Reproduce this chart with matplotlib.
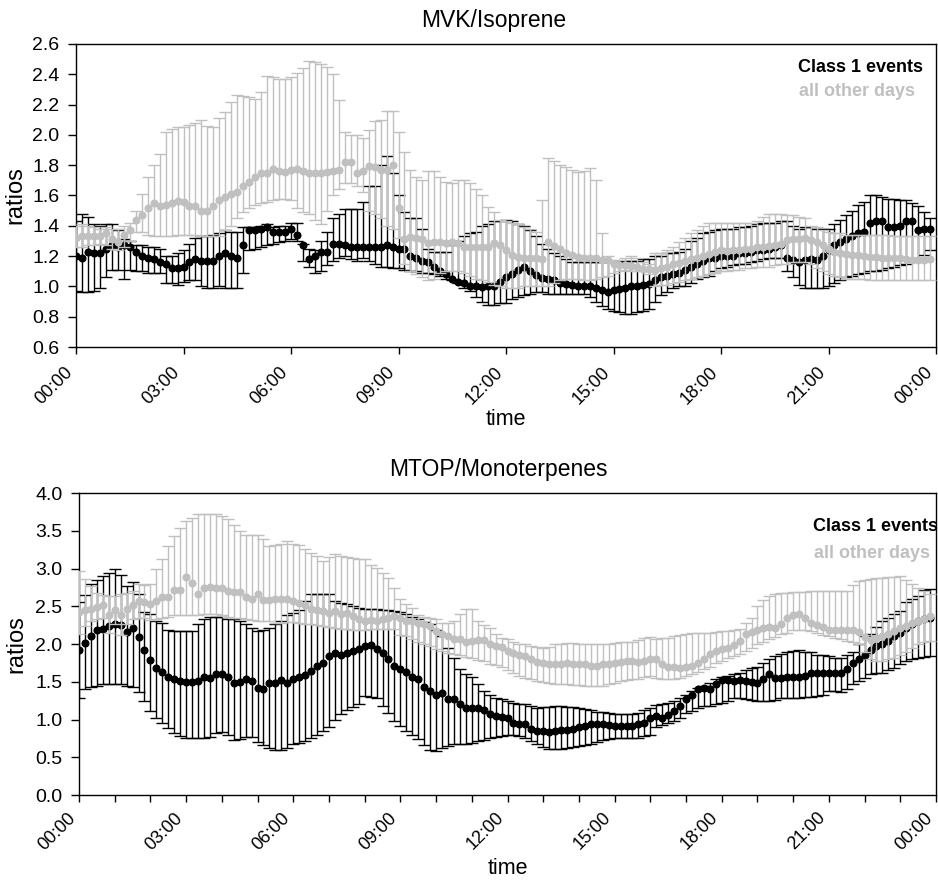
import numpy as np
import matplotlib
matplotlib.use("Agg")
import matplotlib.pyplot as plt

plt.rcParams["font.family"] = ["Liberation Sans", "DejaVu Sans"]

# time of day in 10 minute steps (144 values per day)
n_pts = 144
hours = np.arange(n_pts) / 6.0

tick_hours = [0, 3, 6, 9, 12, 15, 18, 21, 24]
tick_labels = ["00:00", "03:00", "06:00", "09:00", "12:00", "15:00", "18:00", "21:00", "00:00"]

# ---------------- MVK/Isoprene ----------------
mvk_c1_mean = [
    1.20, 1.19, 1.23, 1.22, 1.22, 1.25, 1.27, 1.26, 1.27, 1.26,
    1.23, 1.20, 1.19, 1.18, 1.16, 1.15, 1.12, 1.12, 1.13, 1.16,
    1.18, 1.17, 1.17, 1.17, 1.20, 1.22, 1.20, 1.19, 1.27, 1.37,
    1.37, 1.38, 1.39, 1.36, 1.36, 1.36, 1.38, 1.34, 1.27, 1.18,
    1.20, 1.23, 1.23, 1.28, 1.28, 1.27, 1.26, 1.26,
    1.26, 1.26, 1.26, 1.26, 1.27, 1.26, 1.25, 1.245,
    1.20, 1.185, 1.17, 1.16, 1.13, 1.10, 1.085, 1.05, 1.03, 1.02,
    1.005, 1.0, 0.995, 1.0, 1.0, 1.03, 1.06, 1.085, 1.11, 1.125,
    1.10, 1.075, 1.055, 1.05, 1.04, 1.02, 1.015, 1.01, 1.005, 1.0,
    1.0, 0.99, 0.975, 0.965, 0.975, 0.98, 0.99, 1.0, 1.005, 1.01, 1.015,
    1.04, 1.06, 1.07, 1.08, 1.09, 1.11, 1.13, 1.15, 1.17, 1.19,
    1.19, 1.20, 1.20, 1.20, 1.22, 1.22, 1.23, 1.24, 1.24, 1.25,
    1.26, 1.27, 1.19, 1.175, 1.16, 1.175, 1.18, 1.175, 1.20, 1.24,
    1.27, 1.29, 1.31, 1.33, 1.35, 1.36, 1.42, 1.43, 1.43, 1.39,
    1.39, 1.40, 1.43, 1.43, 1.37, 1.38, 1.38,
]
mvk_c1_hi = [
    1.43, 1.48, 1.46, 1.41, 1.40, 1.41, 1.41, 1.37, 1.31, 1.30,
    1.27, 1.27, 1.26, 1.26, 1.25, 1.20, 1.20, 1.22, 1.24, 1.28,
    1.32, 1.33, 1.33, 1.34, 1.35, 1.37, 1.36, 1.36, 1.39, 1.39,
    1.39, 1.40, 1.41, 1.39, 1.40, 1.40, 1.42, 1.42, 1.28, 1.25,
    1.24, 1.30, 1.36, 1.45, 1.48, 1.51, 1.51, 1.51,
    1.56, 1.66, 1.66, 1.80, 1.86, 1.75, 1.60, 1.49,
    1.45, 1.45, 1.38, 1.25, 1.23, 1.23, 1.23, 1.27, 1.30, 1.33,
    1.35, 1.36, 1.40, 1.41, 1.43, 1.43, 1.44, 1.43, 1.41, 1.40,
    1.37, 1.33, 1.28, 1.25, 1.22, 1.20, 1.18, 1.16, 1.16, 1.16,
    1.16, 1.16, 1.16, 1.16, 1.16, 1.16, 1.17, 1.17, 1.17, 1.18, 1.18,
    1.20, 1.20, 1.22, 1.22, 1.23, 1.25, 1.30, 1.32, 1.35, 1.36,
    1.37, 1.38, 1.38, 1.38, 1.39, 1.39, 1.40, 1.41, 1.42, 1.42,
    1.42, 1.43, 1.43, 1.40, 1.38, 1.39, 1.39, 1.38, 1.38, 1.38,
    1.41, 1.44, 1.47, 1.50, 1.54, 1.56, 1.60, 1.60, 1.59, 1.58,
    1.58, 1.57, 1.57, 1.55, 1.53, 1.49, 1.45,
]
mvk_c1_lo = [
    0.97, 0.965, 0.965, 0.97, 0.99, 1.06, 1.11, 1.11, 1.05, 1.11,
    1.10, 1.10, 1.09, 1.09, 1.09, 1.02, 1.02, 1.01, 1.03, 1.04,
    1.04, 1.00, 0.99, 0.99, 1.00, 0.99, 0.99, 0.99, 1.09, 1.24,
    1.25, 1.26, 1.27, 1.28, 1.29, 1.30, 1.31, 1.30, 1.17, 1.13,
    1.09, 1.10, 1.14, 1.17, 1.19, 1.20, 1.18, 1.17,
    1.19, 1.17, 1.15, 1.13, 1.13, 1.12, 1.12, 1.11,
    1.10, 1.10, 1.09, 1.09, 1.08, 1.07, 1.05, 1.04, 1.02, 0.99,
    0.97, 0.93, 0.90, 0.88, 0.88, 0.89, 0.89, 0.92, 0.93, 0.94,
    0.95, 0.96, 0.96, 0.95, 0.95, 0.95, 0.95, 0.95, 0.95, 0.95,
    0.93, 0.90, 0.87, 0.85, 0.84, 0.83, 0.82, 0.82, 0.83, 0.84, 0.85,
    0.90, 0.94, 0.96, 0.99, 1.00, 1.00, 1.02, 1.05, 1.06, 1.07,
    1.10, 1.12, 1.13, 1.14, 1.15, 1.15, 1.16, 1.17, 1.18, 1.19,
    1.19, 1.19, 1.10, 1.06, 1.01, 0.99, 0.99, 0.99, 0.99, 1.00,
    1.02, 1.04, 1.06, 1.07, 1.08, 1.09, 1.10, 1.10, 1.11, 1.12,
    1.13, 1.14, 1.15, 1.17, 1.19, 1.21, 1.24,
]

mvk_oth_mean = [
    1.32, 1.33, 1.335, 1.335, 1.33, 1.35, 1.31, 1.29, 1.34, 1.37,
    1.44, 1.47, 1.515, 1.55, 1.53, 1.54, 1.55, 1.566, 1.56, 1.53,
    1.53, 1.50, 1.50, 1.53, 1.57, 1.59, 1.61, 1.62, 1.66, 1.69,
    1.72, 1.75, 1.75, 1.775, 1.76, 1.757, 1.768, 1.775, 1.76, 1.75,
    1.746, 1.75, 1.757, 1.76, 1.768, 1.82, 1.82, 1.746, 1.76,
    1.795, 1.79, 1.77, 1.768, 1.80, 1.515, 1.31, 1.324, 1.32, 1.31,
    1.289, 1.29, 1.295, 1.284, 1.29, 1.284, 1.262, 1.258, 1.26, 1.258,
    1.26, 1.284, 1.27, 1.24, 1.207, 1.196, 1.19, 1.185, 1.185, 1.18,
    1.295, 1.267, 1.25, 1.223, 1.207, 1.196, 1.185, 1.185, 1.185, 1.174,
    1.174, 1.148, 1.14, 1.14, 1.135, 1.13, 1.113, 1.113,
    1.11, 1.12, 1.13, 1.145, 1.155, 1.17, 1.18, 1.19, 1.20, 1.215,
    1.23, 1.24, 1.235, 1.24, 1.24, 1.245, 1.25, 1.26, 1.26, 1.265,
    1.27, 1.28, 1.305, 1.31, 1.315, 1.32, 1.305, 1.295, 1.27, 1.245,
    1.23, 1.22, 1.215, 1.21, 1.205, 1.20, 1.195, 1.195, 1.19, 1.185,
    1.185, 1.185, 1.18, 1.175, 1.175, 1.175, 1.18,
]
mvk_oth_hi = [
    1.40, 1.41, 1.40, 1.39, 1.38, 1.39, 1.38, 1.38, 1.40, 1.42,
    1.50, 1.61, 1.72, 1.80, 1.875, 2.02, 2.04, 2.05, 2.05, 2.065,
    2.08, 2.10, 2.06, 2.05, 2.11, 2.15, 2.22, 2.265, 2.26, 2.25,
    2.24, 2.28, 2.39, 2.38, 2.37, 2.37, 2.38, 2.41, 2.44, 2.49,
    2.48, 2.47, 2.45, 2.40, 2.23, 2.02, 2.00, 2.00, 1.98,
    2.03, 2.09, 2.10, 2.16, 2.16, 2.02, 1.89, 1.77, 1.72, 1.70,
    1.76, 1.76, 1.72, 1.69, 1.68, 1.70, 1.70, 1.68, 1.64, 1.60,
    1.525, 1.49, 1.44, 1.43, 1.42, 1.41, 1.39, 1.38, 1.36, 1.57,
    1.845, 1.83, 1.80, 1.79, 1.77, 1.757, 1.76, 1.78, 1.70, 1.355,
    1.20, 1.175, 1.175, 1.19, 1.20, 1.19, 1.16, 1.15,
    1.22, 1.22, 1.24, 1.26, 1.29, 1.32, 1.35, 1.37, 1.40, 1.42,
    1.42, 1.42, 1.42, 1.42, 1.42, 1.42, 1.42, 1.43, 1.46, 1.48,
    1.48, 1.48, 1.47, 1.47, 1.46, 1.45, 1.40, 1.39, 1.37, 1.36,
    1.35, 1.35, 1.34, 1.34, 1.34, 1.34, 1.34, 1.34, 1.34, 1.34,
    1.33, 1.33, 1.33, 1.33, 1.33, 1.33, 1.33,
]
mvk_oth_lo = [
    1.26, 1.26, 1.27, 1.27, 1.28, 1.27, 1.25, 1.24, 1.26, 1.30,
    1.36, 1.36, 1.34, 1.33, 1.33, 1.33, 1.33, 1.34, 1.34, 1.34,
    1.34, 1.33, 1.33, 1.33, 1.33, 1.37, 1.40, 1.45, 1.49, 1.515,
    1.54, 1.55, 1.56, 1.57, 1.58, 1.58, 1.57, 1.52, 1.49, 1.48,
    1.44, 1.41, 1.50, 1.60, 1.64, 1.68, 1.68, 1.66, 1.62,
    1.50, 1.48, 1.45, 1.40, 1.38, 1.32, 1.15, 1.10, 1.08, 1.06,
    1.04, 1.05, 1.09, 1.10, 1.10, 1.10, 1.09, 1.07, 1.05, 1.04,
    1.03, 1.01, 1.00, 0.99, 0.99, 0.99, 1.00, 1.00, 1.00, 1.00,
    1.00, 1.02, 1.04, 1.05, 1.05, 1.05, 1.04, 1.04, 1.05, 1.06,
    1.07, 1.09, 1.10, 1.11, 1.10, 1.10, 1.10, 1.08,
    1.00, 1.01, 1.01, 1.02, 1.03, 1.04, 1.05, 1.06, 1.07, 1.08,
    1.09, 1.10, 1.10, 1.11, 1.11, 1.12, 1.12, 1.13, 1.13, 1.13,
    1.14, 1.15, 1.15, 1.16, 1.16, 1.16, 1.15, 1.12, 1.10, 1.08,
    1.07, 1.06, 1.05, 1.05, 1.05, 1.05, 1.04, 1.04, 1.04, 1.04,
    1.04, 1.04, 1.04, 1.04, 1.04, 1.04, 1.04,
]

# ---------------- MTOP/Monoterpenes ----------------
mtop_c1_mean = [
    1.915, 2.01, 2.105, 2.18, 2.20, 2.237, 2.26, 2.25, 2.16, 2.207,
    2.09, 1.92, 1.787, 1.686, 1.63, 1.56, 1.54, 1.51, 1.496, 1.496,
    1.51, 1.565, 1.545, 1.60, 1.60, 1.56, 1.487, 1.495, 1.54, 1.51,
    1.42, 1.41, 1.48, 1.48, 1.517, 1.487, 1.53, 1.56, 1.59, 1.64,
    1.71, 1.75, 1.84, 1.885, 1.86, 1.885, 1.906, 1.93, 1.97,
    1.986, 1.93, 1.876, 1.797, 1.708, 1.664, 1.628, 1.567, 1.54, 1.43,
    1.377, 1.324, 1.355, 1.275, 1.266, 1.20, 1.156, 1.156, 1.156, 1.12,
    1.068, 1.045, 1.03, 1.023, 0.957, 0.943, 0.943, 0.868, 0.847, 0.847,
    0.834, 0.847, 0.856, 0.856, 0.88, 0.90, 0.91, 0.935, 0.943, 0.935,
    0.926, 0.912, 0.912, 0.912, 0.912, 0.943, 0.957, 1.023,
    1.045, 1.023, 1.06, 1.11, 1.177, 1.27, 1.33, 1.40, 1.42, 1.41,
    1.47, 1.517, 1.517, 1.51, 1.517, 1.51, 1.50, 1.487, 1.53, 1.60,
    1.545, 1.545, 1.56, 1.56, 1.56, 1.575, 1.62, 1.62, 1.61, 1.61,
    1.61, 1.62, 1.664, 1.75, 1.797, 1.86, 1.92, 1.97, 2.0, 2.046,
    2.10, 2.15, 2.215, 2.26, 2.30, 2.33, 2.35,
]
mtop_c1_hi = [
    2.55, 2.65, 2.79, 2.85, 2.90, 2.945, 2.99, 2.91, 2.77, 2.82,
    2.66, 2.43, 2.40, 2.30, 2.28, 2.19, 2.17, 2.17, 2.17, 2.17,
    2.26, 2.33, 2.36, 2.36, 2.36, 2.33, 2.33, 2.30, 2.26, 2.215,
    2.17, 2.19, 2.215, 2.26, 2.30, 2.385, 2.41, 2.445, 2.57, 2.66,
    2.66, 2.66, 2.66, 2.57, 2.54, 2.525, 2.50, 2.48, 2.47,
    2.46, 2.46, 2.45, 2.45, 2.44, 2.42, 2.40, 2.36, 2.33, 2.29,
    2.26, 2.19, 2.10, 1.95, 1.82, 1.664, 1.60, 1.56, 1.466, 1.377,
    1.33, 1.29, 1.27, 1.25, 1.22, 1.21, 1.20, 1.18, 1.156, 1.16,
    1.17, 1.18, 1.18, 1.17, 1.16, 1.15, 1.134, 1.12, 1.10, 1.10,
    1.09, 1.077, 1.075, 1.07, 1.068, 1.09, 1.13, 1.15,
    1.19, 1.20, 1.22, 1.24, 1.28, 1.33, 1.38, 1.42, 1.45, 1.49,
    1.53, 1.56, 1.58, 1.60, 1.62, 1.65, 1.68, 1.70, 1.75, 1.80,
    1.84, 1.87, 1.89, 1.91, 1.915, 1.90, 1.89, 1.86, 1.85, 1.84,
    1.82, 1.82, 1.85, 1.90, 2.00, 2.10, 2.13, 2.22, 2.30, 2.35,
    2.40, 2.44, 2.55, 2.60, 2.64, 2.72, 2.735,
]
mtop_c1_lo = [
    1.28, 1.40, 1.43, 1.45, 1.465, 1.465, 1.465, 1.465, 1.45, 1.43,
    1.37, 1.245, 1.11, 1.015, 0.957, 0.89, 0.825, 0.78, 0.76, 0.75,
    0.75, 0.76, 0.77, 0.825, 0.83, 0.80, 0.73, 0.74, 0.767, 0.767,
    0.70, 0.66, 0.62, 0.60, 0.60, 0.62, 0.67, 0.69, 0.71, 0.757,
    0.80, 0.846, 0.90, 0.99, 1.07, 1.13, 1.17, 1.20, 1.31,
    1.30, 1.29, 1.18, 1.09, 0.98, 0.91, 0.85, 0.80, 0.74, 0.66,
    0.60, 0.58, 0.62, 0.65, 0.67, 0.67, 0.67, 0.69, 0.71, 0.73,
    0.75, 0.77, 0.78, 0.80, 0.79, 0.78, 0.75, 0.72, 0.67, 0.64,
    0.61, 0.605, 0.61, 0.617, 0.63, 0.647, 0.66, 0.68, 0.70, 0.73,
    0.74, 0.75, 0.757, 0.755, 0.75, 0.76, 0.78, 0.80,
    0.90, 0.93, 0.957, 0.98, 1.02, 1.08, 1.11, 1.15, 1.177, 1.18,
    1.20, 1.22, 1.25, 1.28, 1.28, 1.27, 1.26, 1.25, 1.244, 1.25,
    1.26, 1.28, 1.29, 1.29, 1.29, 1.30, 1.30, 1.31, 1.33, 1.377,
    1.375, 1.37, 1.40, 1.466, 1.51, 1.55, 1.60, 1.61, 1.62, 1.65,
    1.686, 1.73, 1.775, 1.80, 1.82, 1.83, 1.84,
]

mtop_oth_mean = [
    2.43, 2.445, 2.47, 2.49, 2.515, 2.39, 2.45, 2.39, 2.47, 2.515,
    2.57, 2.56, 2.535, 2.57, 2.625, 2.62, 2.71, 2.72, 2.886, 2.81,
    2.665, 2.736, 2.754, 2.745, 2.736, 2.70, 2.69, 2.69, 2.62, 2.60,
    2.665, 2.577, 2.577, 2.59, 2.59, 2.60, 2.57, 2.547, 2.52, 2.46,
    2.445, 2.44, 2.41, 2.44, 2.40, 2.415, 2.37, 2.326, 2.30,
    2.313, 2.31, 2.33, 2.35, 2.37, 2.35, 2.31, 2.30, 2.28, 2.26,
    2.237, 2.17, 2.127, 2.105, 2.06, 2.06, 2.03, 2.04, 2.05, 2.05,
    1.995, 1.97, 1.96, 1.91, 1.885, 1.86, 1.84, 1.797, 1.766, 1.75,
    1.73, 1.73, 1.74, 1.75, 1.74, 1.73, 1.73, 1.71, 1.71, 1.73,
    1.74, 1.75, 1.766, 1.775, 1.77, 1.76, 1.775, 1.797,
    1.797, 1.73, 1.695, 1.69, 1.686, 1.69, 1.71, 1.75, 1.797, 1.862,
    1.907, 1.94, 1.95, 1.986, 2.04, 2.127, 2.16, 2.19, 2.207, 2.225,
    2.215, 2.27, 2.35, 2.39, 2.40, 2.35, 2.28, 2.25, 2.225, 2.19,
    2.19, 2.19, 2.19, 2.18, 2.16, 2.09, 2.05, 2.08, 2.105, 2.127,
    2.17, 2.215, 2.237, 2.28, 2.30, 2.33, 2.37,
]
mtop_oth_hi = [
    2.97, 2.86, 2.77, 2.67, 2.65, 2.63, 2.64, 2.66, 2.67, 2.70,
    2.79, 2.78, 2.80, 2.99, 3.12, 3.30, 3.43, 3.54, 3.63, 3.67,
    3.72, 3.72, 3.72, 3.72, 3.695, 3.65, 3.575, 3.50, 3.45, 3.45,
    3.44, 3.385, 3.30, 3.31, 3.33, 3.36, 3.33, 3.31, 3.26, 3.21,
    3.165, 3.10, 3.15, 3.19, 3.16, 3.15, 3.14, 3.12, 3.12,
    3.05, 3.01, 2.945, 2.88, 2.745, 2.59, 2.525, 2.48, 2.39, 2.36,
    2.35, 2.33, 2.28, 2.28, 2.30, 2.40, 2.46, 2.46, 2.30, 2.25,
    2.215, 2.127, 2.08, 2.06, 2.03, 2.0, 1.995, 1.98, 1.96, 1.95,
    1.96, 1.995, 2.0, 2.016, 2.01, 2.0, 2.0, 2.0, 2.0, 1.995,
    2.0, 2.01, 2.02, 2.03, 2.03, 2.05, 2.08, 2.09,
    2.07, 2.08, 2.08, 2.10, 2.12, 2.13, 2.14, 2.15, 2.15, 2.15,
    2.16, 2.17, 2.17, 2.18, 2.20, 2.28, 2.35, 2.50, 2.58, 2.636,
    2.656, 2.67, 2.68, 2.69, 2.69, 2.69, 2.70, 2.70, 2.70, 2.70,
    2.70, 2.70, 2.70, 2.78, 2.834, 2.85, 2.856, 2.87, 2.88, 2.886,
    2.89, 2.90, 2.85, 2.79, 2.745, 2.70, 2.66,
]
mtop_oth_lo = [
    2.13, 2.24, 2.30, 2.33, 2.35, 2.15, 2.26, 2.12, 2.27, 2.33,
    2.35, 2.34, 2.32, 2.33, 2.35, 2.36, 2.38, 2.39, 2.39, 2.39,
    2.39, 2.40, 2.40, 2.40, 2.38, 2.36, 2.35, 2.34, 2.33, 2.32,
    2.31, 2.30, 2.30, 2.28, 2.28, 2.29, 2.29, 2.28, 2.27, 2.26,
    2.25, 2.24, 2.22, 2.21, 2.20, 2.20, 2.19, 2.18, 2.18,
    2.20, 2.20, 2.20, 2.20, 2.20, 2.12, 2.10, 2.07, 2.03, 2.0,
    1.97, 1.94, 1.91, 1.88, 1.87, 1.85, 1.83, 1.82, 1.79, 1.77,
    1.74, 1.72, 1.70, 1.66, 1.62, 1.58, 1.55, 1.53, 1.51, 1.50,
    1.48, 1.474, 1.466, 1.466, 1.46, 1.456, 1.45, 1.443, 1.443, 1.45,
    1.47, 1.49, 1.51, 1.52, 1.53, 1.54, 1.56, 1.57,
    1.55, 1.54, 1.53, 1.53, 1.55, 1.58, 1.60, 1.63, 1.664, 1.70,
    1.75, 1.78, 1.81, 1.84, 1.87, 1.907, 1.95, 1.995, 2.03, 2.06,
    2.09, 2.127, 2.15, 2.18, 2.19, 2.19, 2.17, 2.14, 2.12, 2.10,
    2.08, 2.06, 2.04, 2.02, 2.00, 1.90, 1.80, 1.78, 1.78, 1.80,
    1.82, 1.85, 1.90, 1.95, 1.995, 2.02, 2.04,
]

black = "#000000"
grey = "#c0c0c0"


def err(mean, lo, hi):
    mean = np.array(mean)
    return np.vstack([np.clip(mean - np.array(lo), 0, None),
                      np.clip(np.array(hi) - mean, 0, None)])


def panel(ax, c1_mean, c1_lo, c1_hi, oth_mean, oth_lo, oth_hi, pad):
    ax.errorbar(hours, c1_mean, yerr=err(c1_mean, c1_lo, c1_hi), fmt="o", color=black,
                ms=4.8, elinewidth=1.0, capsize=4.3, capthick=1.0, zorder=2)
    ax.errorbar(hours, oth_mean, yerr=err(oth_mean, oth_lo, oth_hi), fmt="o", color=grey,
                ms=4.8, elinewidth=1.0, capsize=4.3, capthick=1.0, zorder=3)
    ax.set_xlim(0, 24)
    ax.set_xticks(tick_hours)
    ax.set_xticklabels(tick_labels, rotation=45, ha="right", va="bottom",
                       rotation_mode="anchor", fontsize=13)
    ax.tick_params(axis="x", which="major", pad=pad, length=5, width=1.0)
    ax.tick_params(axis="y", labelsize=14, length=6, width=1.0, pad=6)
    ax.set_xlabel("time", fontsize=15.5)
    ax.set_ylabel("ratios", fontsize=17)
    for s in ax.spines.values():
        s.set_linewidth(1.0)


fig = plt.figure(figsize=(9.38, 8.8), dpi=100)

# top: MVK/Isoprene
ax1 = fig.add_axes([76 / 938, 1 - 347 / 880, 860 / 938, 303 / 880])
panel(ax1, mvk_c1_mean, mvk_c1_lo, mvk_c1_hi, mvk_oth_mean, mvk_oth_lo, mvk_oth_hi, 16)
ax1.set_ylim(0.6, 2.6)
ax1.set_yticks(np.arange(0.6, 2.61, 0.2))
ax1.set_yticklabels(["%.1f" % v for v in np.arange(0.6, 2.61, 0.2)])
ax1.xaxis.set_label_coords(0.5, -0.205)
ax1.yaxis.set_label_coords(-0.058, 0.5)
fig.text(494 / 938, 1 - 21 / 880, "MVK/Isoprene", ha="center", va="center", fontsize=16.5)
fig.text(860 / 938, 1 - 67 / 880, "Class 1 events", ha="center", va="center",
         fontsize=13, fontweight="bold", color=black)
fig.text(857 / 938, 1 - 92 / 880, "all other days", ha="center", va="center",
         fontsize=13, fontweight="bold", color=grey)

# bottom: MTOP/Monoterpenes
ax2 = fig.add_axes([79 / 938, 1 - 795 / 880, 857 / 938, 302 / 880])
panel(ax2, mtop_c1_mean, mtop_c1_lo, mtop_c1_hi, mtop_oth_mean, mtop_oth_lo, mtop_oth_hi, 14)
ax2.set_ylim(0, 4.0)
ax2.set_yticks(np.arange(0, 4.01, 0.5))
ax2.set_yticklabels(["%.1f" % v for v in np.arange(0, 4.01, 0.5)])
ax2.set_xticks(range(0, 25), minor=True)
ax2.tick_params(axis="x", which="minor", length=5, width=1.0)
ax2.xaxis.set_label_coords(0.5, -0.207)
ax2.yaxis.set_label_coords(-0.06, 0.5)
fig.text(498 / 938, 1 - 469 / 880, "MTOP/Monoterpenes", ha="center", va="center", fontsize=16.5)
fig.text(875 / 938, 1 - 526 / 880, "Class 1 events", ha="center", va="center",
         fontsize=13, fontweight="bold", color=black)
fig.text(872 / 938, 1 - 553 / 880, "all other days", ha="center", va="center",
         fontsize=13, fontweight="bold", color=grey)

fig.savefig("out.png", dpi=100)
